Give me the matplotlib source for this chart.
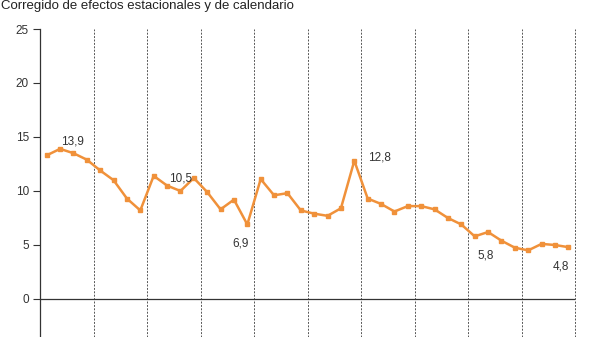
import numpy as np
import matplotlib
matplotlib.use("Agg")
import matplotlib.pyplot as plt

plt.rcParams['font.family'] = ['Liberation Sans', 'DejaVu Sans']

# quarterly values, 10 years x 4 quarters
values = [13.3, 13.9, 13.5, 12.9,
          11.9, 11.0, 9.3, 8.2,
          11.4, 10.5, 10.0, 11.2,
          9.9, 8.3, 9.2, 6.9,
          11.1, 9.6, 9.8, 8.2,
          7.9, 7.7, 8.4, 12.8,
          9.3, 8.8, 8.1, 8.6,
          8.6, 8.3, 7.5, 6.9,
          5.8, 6.2, 5.4, 4.75,
          4.5, 5.1, 5.0, 4.8]
# index of labelled points and where the label goes
label_idx = [1, 9, 15, 23, 32, 39]
label_txt = ["13,9", "10,5", "6,9", "12,8", "5,8", "4,8"]
label_off = [(9, 5), (10, 5), (-5, -14), (18, 2), (8, -14), (-5, -14)]
yticks = [0, 5, 10, 15, 20, 25]
title = "Corregido de efectos estacionales y de calendario"

orange = "#F0913A"

fig = plt.figure(figsize=(6, 3.37), dpi=100)
ax = fig.add_axes([40/600, 0, 535/600, 1 - 29/337])

x = np.arange(len(values)) + 0.5
ax.plot(x, values, color=orange, lw=1.8, marker='s', ms=3.2, zorder=3)

for i, t, (dx, dy) in zip(label_idx, label_txt, label_off):
    ax.annotate(t, (x[i], values[i]), xytext=(dx, dy), textcoords='offset points',
                ha='center', va='center', fontsize=8.5, color='#333333')

for b in range(4, len(values) + 1, 4):
    ax.axvline(b, color='#555555', lw=0.7, ls=(0, (2, 1.5)), zorder=1, clip_on=False)
ax.axhline(0, color='#333333', lw=0.9, zorder=2)

ax.set_xlim(0, len(values))
ax.set_ylim(-3.52, 25)
ax.set_yticks(yticks)
ax.set_xticks([])
ax.tick_params(axis='y', labelsize=8.5, length=5, width=0.8, colors='#333333', pad=3)
for s in ['top', 'right', 'bottom']:
    ax.spines[s].set_visible(False)
ax.spines['left'].set_color('#333333')
ax.spines['left'].set_linewidth(0.9)

fig.text(1/600, 1 - 6/337, title, ha='left', va='center', fontsize=9.5, color='#222222')

fig.savefig("out.png", dpi=100)
